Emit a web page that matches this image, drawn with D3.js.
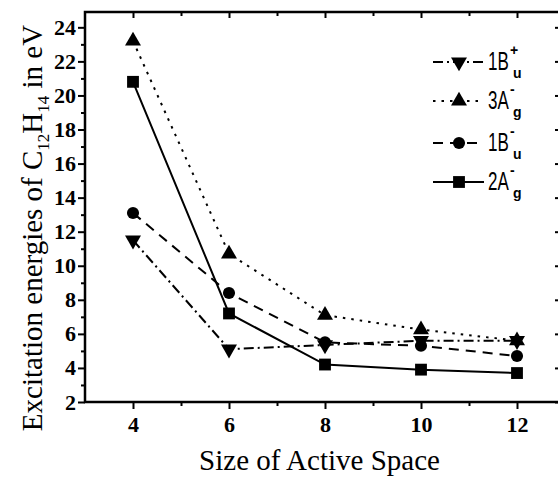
<!DOCTYPE html>
<html>
<head>
<meta charset="utf-8">
<script src="https://cdn.jsdelivr.net/npm/d3@7"></script>
<style>
  body { margin: 0; background: #fff; }
  svg { display: block; }
</style>
</head>
<body>
<svg id="chart" width="558" height="479"></svg>
<script>
// data
var sizes = [4, 6, 8, 10, 12];
var b1uPlus = [11.5, 5.1, 5.35, 5.6, 5.6];
var a3g = [23.2, 10.7, 7.1, 6.25, 5.6];
var b1uMinus = [13.1, 8.4, 5.5, 5.3, 4.7];
var a2g = [20.8, 7.2, 4.2, 3.9, 3.7];

var xMajor = [4, 6, 8, 10, 12];
var xMinor = [5, 7, 9, 11];
var yMajor = [2, 4, 6, 8, 10, 12, 14, 16, 18, 20, 22, 24];
var yMinor = [3, 5, 7, 9, 11, 13, 15, 17, 19, 21, 23];

var seriesNames = ["1B", "3A", "1B", "2A"];
var seriesSub = ["u", "g", "u", "g"];
var seriesSup = ["+", "-", "-", "-"];

var svg = d3.select("#chart");
var padL = 85, padT = 12, padR = 565, padB = 402;
var serif = "'Liberation Serif', 'Times New Roman', serif";
var sans = "'Liberation Sans', Arial, sans-serif";

var x = d3.scaleLinear().domain([3, 13]).range([padL, padR]);
var y = d3.scaleLinear().domain([2, 24.9]).range([padB, padT]);

var series = [
  { vals: b1uPlus, dash: "10,4,2,4", sym: d3.symbolTriangle, rot: 180, size: 110 },
  { vals: a3g, dash: "2.5,6", sym: d3.symbolTriangle, rot: 0, size: 110 },
  { vals: b1uMinus, dash: "10,7", sym: d3.symbolCircle, rot: 0, size: 115 },
  { vals: a2g, dash: null, sym: d3.symbolSquare, rot: 0, size: 140 }
];

function styleAxis(g) {
  g.attr("font-family", null).attr("font-size", null);
  g.select(".domain").remove();
  g.selectAll("line").attr("stroke", "#000").attr("stroke-width", 2);
  g.selectAll("text")
    .style("font-family", serif)
    .style("font-weight", "bold")
    .style("font-size", "22px")
    .attr("fill", "#000");
}

// bottom axis
svg.append("g").attr("transform", "translate(0," + padB + ")")
  .call(d3.axisBottom(x).tickValues(xMajor).tickSize(7).tickPadding(7).tickFormat(d3.format("d")))
  .call(styleAxis);
svg.append("g").attr("transform", "translate(0," + padB + ")")
  .call(d3.axisBottom(x).tickValues(xMinor).tickSize(4).tickFormat(""))
  .call(styleAxis);

// top axis, ticks pointing inside
svg.append("g").attr("transform", "translate(0," + padT + ")")
  .call(d3.axisBottom(x).tickValues(xMajor).tickSize(6).tickFormat(""))
  .call(styleAxis);
svg.append("g").attr("transform", "translate(0," + padT + ")")
  .call(d3.axisBottom(x).tickValues(xMinor).tickSize(4).tickFormat(""))
  .call(styleAxis);

// left axis
svg.append("g").attr("transform", "translate(" + padL + ",0)")
  .call(d3.axisLeft(y).tickValues(yMajor).tickSize(7).tickPadding(2).tickFormat(d3.format("d")))
  .call(styleAxis);
svg.append("g").attr("transform", "translate(" + padL + ",0)")
  .call(d3.axisLeft(y).tickValues(yMinor).tickSize(4).tickFormat(""))
  .call(styleAxis);

// right axis, ticks pointing inside
svg.append("g").attr("transform", "translate(" + padR + ",0)")
  .call(d3.axisLeft(y).tickValues(yMajor).tickSize(10).tickFormat(""))
  .call(styleAxis);

// frame
svg.append("rect")
  .attr("x", padL).attr("y", padT)
  .attr("width", padR - padL).attr("height", padB - padT)
  .attr("fill", "none").attr("stroke", "#000").attr("stroke-width", 2.5);

// lines and markers
var line = d3.line()
  .x(function (d) { return x(d[0]); })
  .y(function (d) { return y(d[1]); });

series.forEach(function (s) {
  var pts = sizes.map(function (v, i) { return [v, s.vals[i]]; });
  svg.append("path")
    .datum(pts)
    .attr("d", line)
    .attr("fill", "none")
    .attr("stroke", "#000")
    .attr("stroke-width", 2)
    .attr("stroke-dasharray", s.dash);
  svg.append("g").selectAll("path")
    .data(pts)
    .enter()
    .append("path")
    .attr("d", d3.symbol().type(s.sym).size(s.size))
    .attr("transform", function (d) {
      return "translate(" + x(d[0]) + "," + y(d[1]) + ") rotate(" + s.rot + ")";
    })
    .attr("fill", "#000");
});

// legend
var legY = [62, 101, 143, 182];
series.forEach(function (s, i) {
  var g = svg.append("g").attr("transform", "translate(433," + legY[i] + ")");
  g.append("line")
    .attr("x1", 0).attr("x2", 51).attr("y1", 0).attr("y2", 0)
    .attr("stroke", "#000").attr("stroke-width", 2)
    .attr("stroke-dasharray", s.dash);
  g.append("path")
    .attr("d", d3.symbol().type(s.sym).size(s.size))
    .attr("transform", "translate(26,0) rotate(" + s.rot + ")")
    .attr("fill", "#000");
  // the legend face is tall and narrow
  g.append("text")
    .attr("transform", "translate(55,8) scale(0.68,1)")
    .style("font-family", sans)
    .style("font-size", "25px")
    .text(seriesNames[i]);
  g.append("text")
    .attr("x", 77).attr("y", -7)
    .style("font-family", sans)
    .style("font-size", "14px")
    .style("font-weight", "bold")
    .text(seriesSup[i]);
  g.append("text")
    .attr("x", 80).attr("y", 16)
    .style("font-family", sans)
    .style("font-size", "14px")
    .style("font-weight", "bold")
    .text(seriesSub[i]);
});

// axis titles
svg.append("text")
  .attr("x", (padL + 558) / 2 - 2)
  .attr("y", 470)
  .attr("text-anchor", "middle")
  .style("font-family", serif)
  .style("font-size", "29px")
  .text("Size of Active Space");

var yl = svg.append("text")
  .attr("text-anchor", "middle")
  .attr("transform", "translate(42," + 228 + ")rotate(-90)")
  .style("font-family", serif)
  .style("font-size", "29px");
yl.append("tspan").text("Excitation energies of C");
yl.append("tspan").attr("dy", 7).style("font-size", "17px").text("12");
yl.append("tspan").attr("dy", -7).text("H");
yl.append("tspan").attr("dy", 7).style("font-size", "17px").text("14");
yl.append("tspan").attr("dy", -7).text(" in eV");
</script>
</body>
</html>
